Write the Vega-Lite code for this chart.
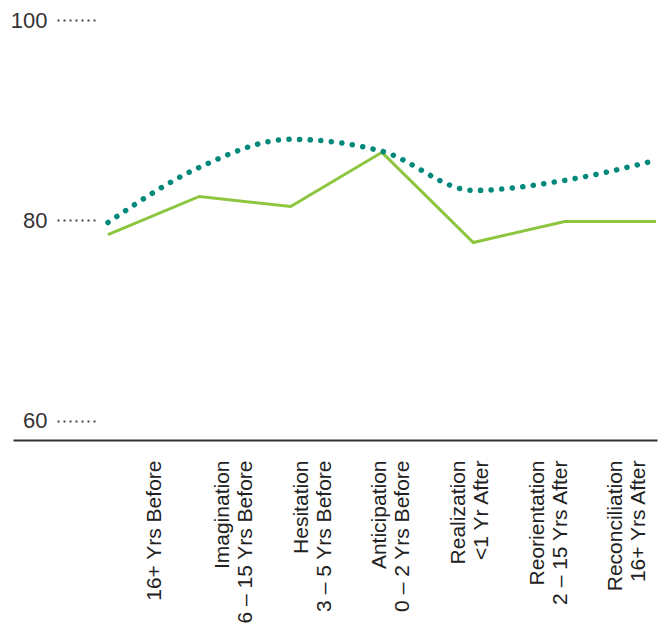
{
  "$schema": "https://vega.github.io/schema/vega-lite/v6.json",
  "width": 644,
  "height": 420,
  "autosize": {"type": "none"},
  "padding": {"left": 13, "top": 20, "right": 6, "bottom": 189},
  "background": "white",
  "config": {"view": {"stroke": null}},
  "data": {
    "values": [
      {"i": 0, "stage": "16+ Yrs Before", "dotted": 79.8, "solid": 78.6},
      {"i": 1, "stage": "Imagination|6 – 15 Yrs Before", "dotted": 85.3, "solid": 82.4},
      {"i": 2, "stage": "Hesitation|3 – 5 Yrs Before", "dotted": 88.1, "solid": 81.4},
      {"i": 3, "stage": "Anticipation|0 – 2 Yrs Before", "dotted": 86.9, "solid": 86.8},
      {"i": 4, "stage": "Realization|<1 Yr After", "dotted": 83.0, "solid": 77.8},
      {"i": 5, "stage": "Reorientation|2 – 15 Yrs After", "dotted": 84.0, "solid": 79.9},
      {"i": 6, "stage": "Reconciliation|16+ Yrs After", "dotted": 86.0, "solid": 79.9}
    ]
  },
  "layer": [
    {
      "mark": {"type": "line", "color": "#8cc63f", "strokeWidth": 3},
      "encoding": {
        "x": {"field": "i", "type": "quantitative", "scale": {"domain": [-1.04, 6.011], "nice": false, "zero": false}, "axis": null},
        "y": {
          "field": "solid", "type": "quantitative",
          "scale": {"domain": [58.1, 100], "nice": false, "zero": false},
          "axis": {
            "values": [60, 80, 100], "title": null, "domain": false, "grid": false,
            "offset": -82, "tickSize": 40, "tickDash": [2, 4], "tickWidth": 2, "tickColor": "#444444",
            "labelPadding": 8, "labelFontSize": 22, "labelFont": "Liberation Sans", "labelColor": "#333333"
          }
        }
      }
    },
    {
      "mark": {"type": "line", "color": "#00897b", "strokeWidth": 5.5, "strokeCap": "round", "strokeDash": [0.1, 10.5], "interpolate": "monotone"},
      "encoding": {
        "x": {"field": "i", "type": "quantitative", "scale": {"domain": [-1.04, 6.011], "nice": false, "zero": false}, "axis": null},
        "y": {"field": "dotted", "type": "quantitative"}
      }
    },
    {
      "mark": {"type": "point", "opacity": 0},
      "encoding": {
        "x": {
          "field": "i", "type": "quantitative",
          "scale": {"domain": [-1.797, 6.381], "nice": false, "zero": false},
          "axis": {
            "orient": "bottom", "title": null, "ticks": false, "domain": true, "domainColor": "#333333", "domainWidth": 2,
            "values": [0, 1, 2, 3, 4, 5, 6],
            "labelAngle": -90, "labelAlign": "right",
            "labelBaseline": {"condition": {"test": "datum.value == 0", "value": "middle"}, "value": "line-bottom"},
            "labelPadding": 20,
            "labelFontSize": 21, "labelFont": "Liberation Sans", "labelColor": "#222222", "labelLineHeight": 23,
            "labelOverlap": false, "labelLimit": 0, "labelFlush": false,
            "labelExpr": "split(['16+ Yrs Before', 'Imagination|6 – 15 Yrs Before', 'Hesitation|3 – 5 Yrs Before', 'Anticipation|0 – 2 Yrs Before', 'Realization|<1 Yr After', 'Reorientation|2 – 15 Yrs After', 'Reconciliation|16+ Yrs After'][datum.value], '|')"
          }
        }
      }
    }
  ],
  "resolve": {"scale": {"x": "independent"}, "axis": {"x": "independent"}}
}
